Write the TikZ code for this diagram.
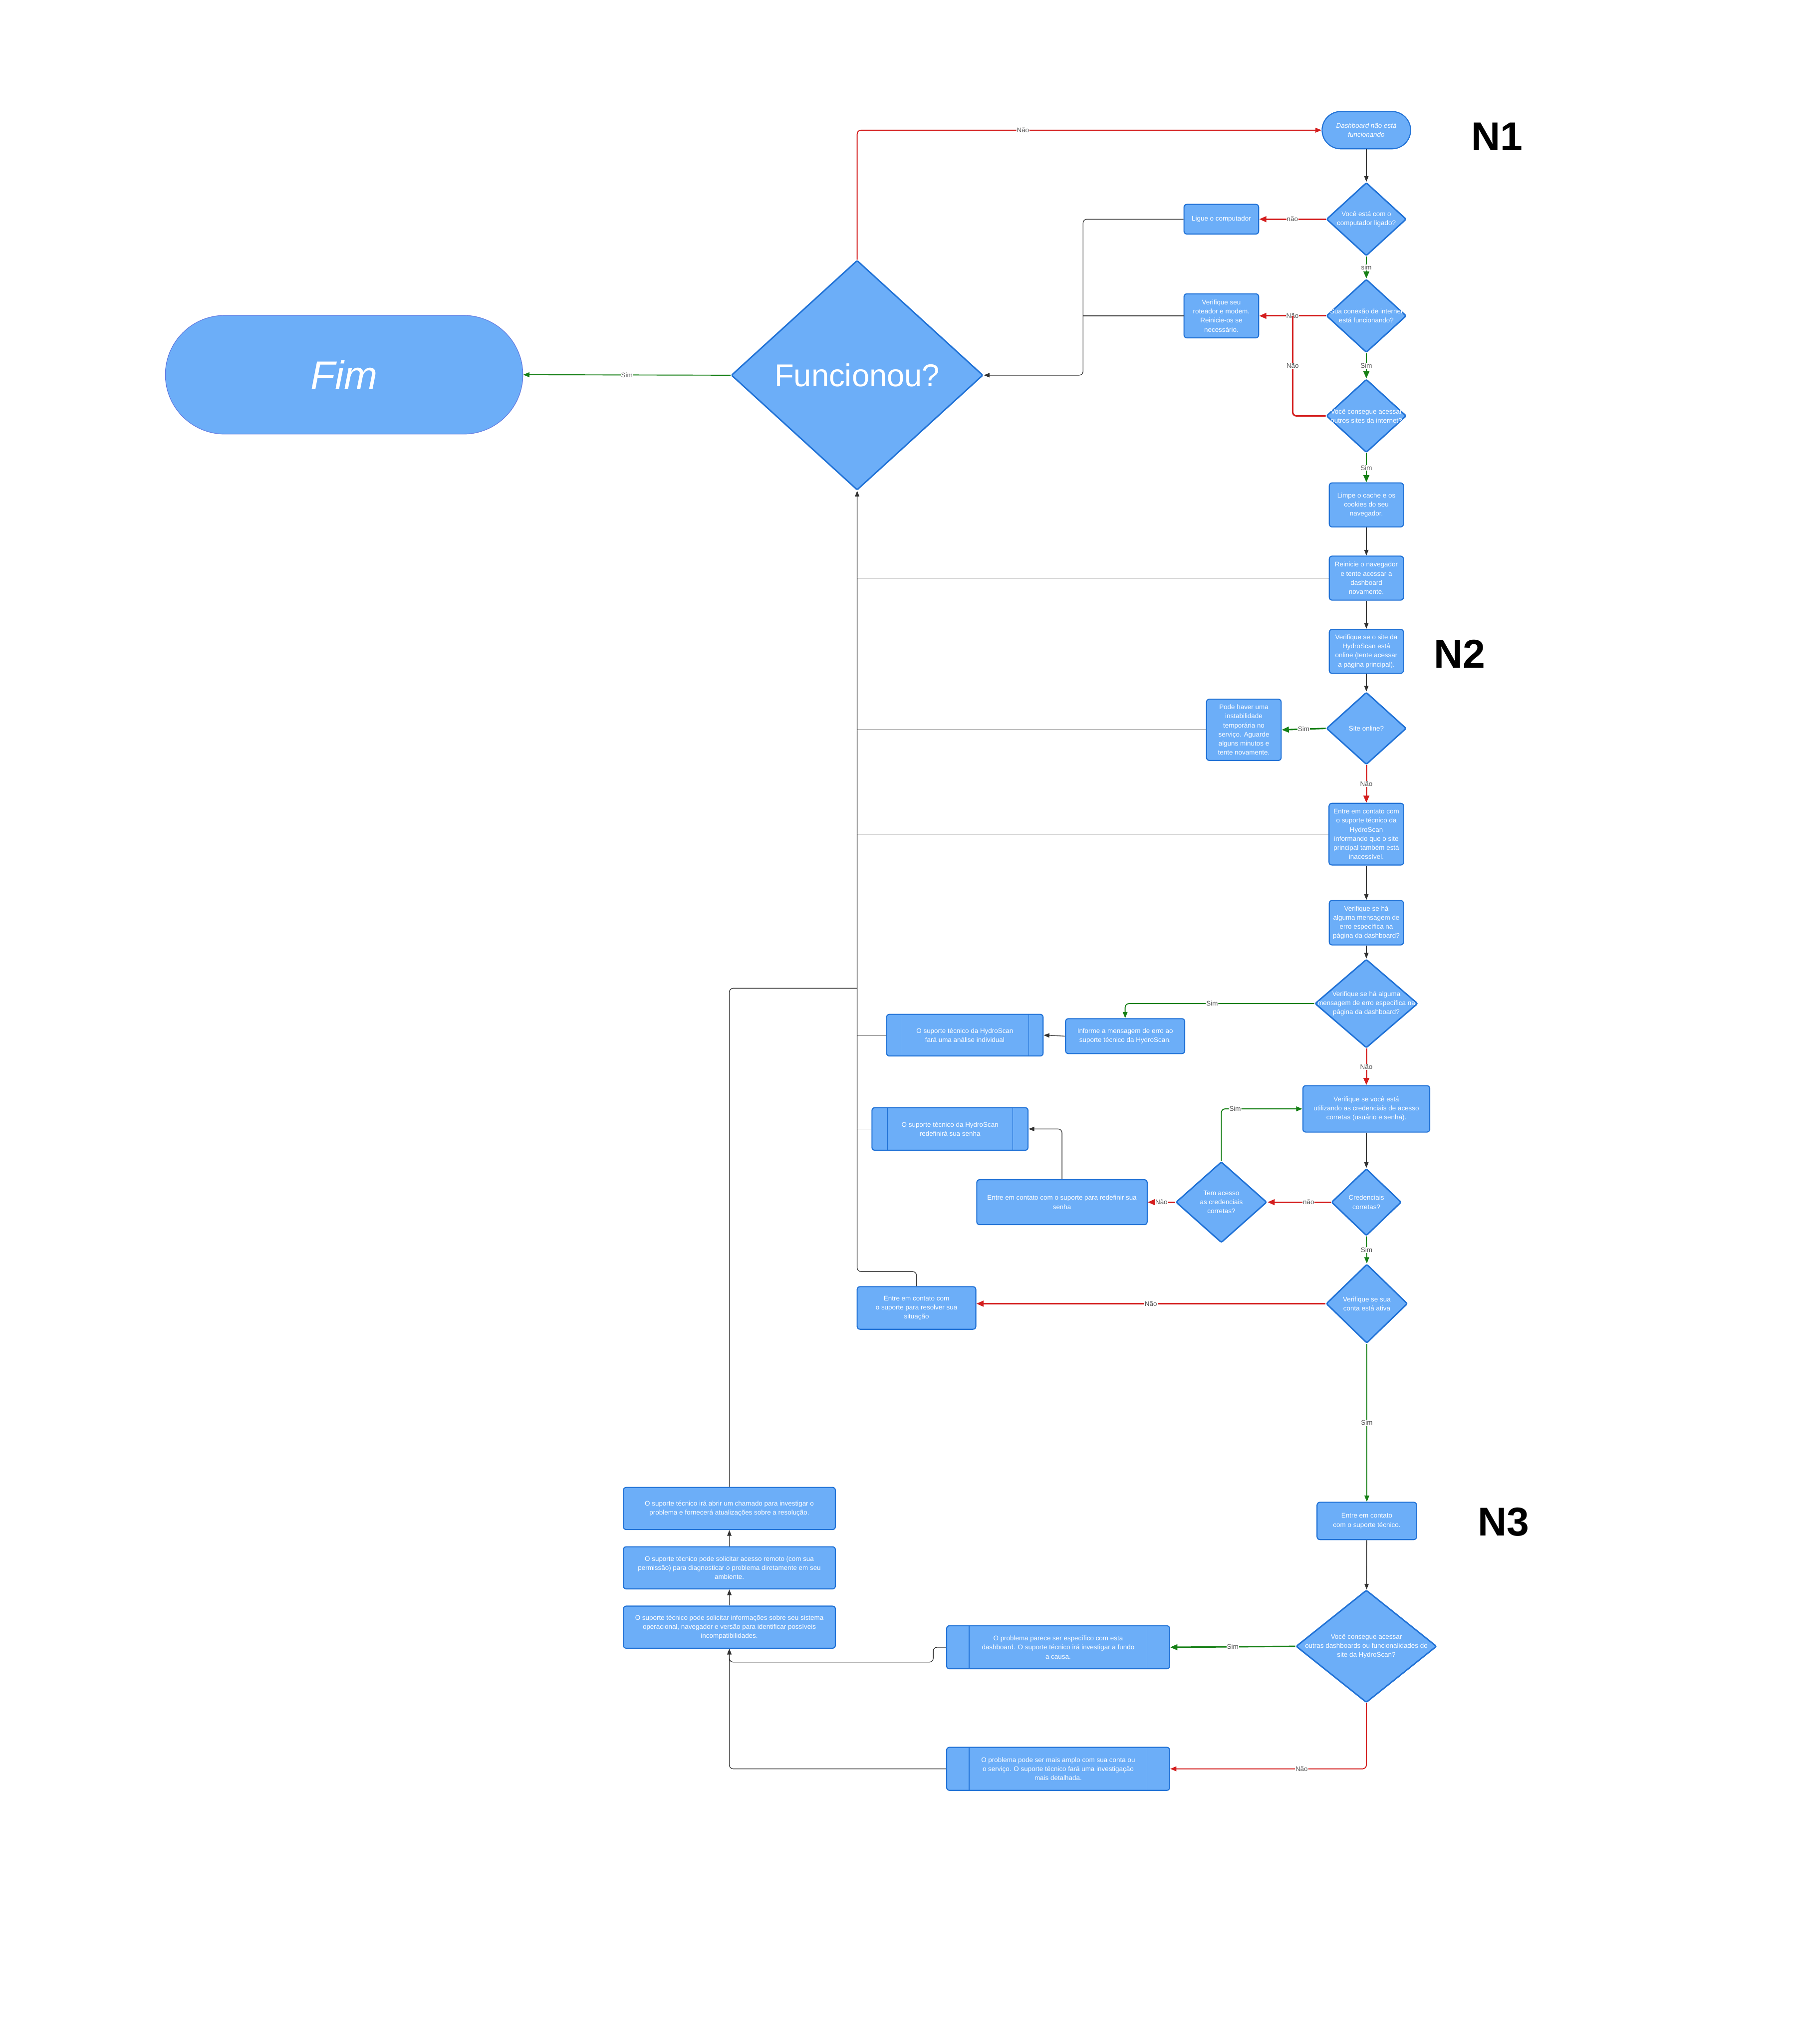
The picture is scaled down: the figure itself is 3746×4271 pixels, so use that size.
\documentclass[tikz,border=0pt]{standalone}
\usepackage{fontspec}
\setmainfont{Liberation Sans}
\usetikzlibrary{shapes.geometric,arrows.meta}
\definecolor{bfill}{RGB}{108,174,248}
\definecolor{bdraw}{RGB}{33,114,214}
\definecolor{fimdraw}{RGB}{96,120,224}
\definecolor{cred}{RGB}{212,30,30}
\definecolor{cgreen}{RGB}{22,128,22}
\definecolor{cgray}{RGB}{50,50,50}
\definecolor{clbl}{RGB}{85,85,85}
\newcommand{\fs}{\fontsize{14}{19}\selectfont}
\begin{document}
\begin{tikzpicture}[x=1pt,y=-1pt,
 sz/.style 2 args={minimum width=#1pt, minimum height=#2pt},
 box/.style={rectangle, rounded corners=6pt, fill=bfill, draw=bdraw, line width=2.2pt, text=white, align=center, font=\fs, inner sep=0pt},
 subbox/.style={box, path picture={\draw[bdraw, line width=1.4pt] ([xshift=#1pt]path picture bounding box.north west) -- ([xshift=#1pt]path picture bounding box.south west) ([xshift=-#1pt]path picture bounding box.north east) -- ([xshift=-#1pt]path picture bounding box.south east);}},
 dia/.style={diamond, fill=bfill, draw=bdraw, line width=3pt, inner sep=0pt, rounded corners=3pt},
 dtext/.style={text=white, align=center, font=\fs, inner sep=0pt},
 lbl/.style={fill=white, text=clbl, font=\fs, inner sep=1pt},
 big/.style={text=black, font=\fontsize{84}{84}\selectfont\bfseries},
 blk/.style={draw=cgray, line width=1.4pt, -{Triangle[length=12pt,width=9pt]}},
 blkl/.style={draw=cgray, line width=1.4pt},
 redA/.style={draw=cred, line width=3.2pt, -{Triangle[length=15pt,width=12pt]}},
 redl/.style={draw=cred, line width=3.2pt},
 redB/.style={draw=cred, line width=2pt, -{Triangle[length=13pt,width=10pt]}},
 grA/.style={draw=cgreen, line width=3pt, -{Triangle[length=15pt,width=12pt]}},
 grB/.style={draw=cgreen, line width=2pt, -{Triangle[length=13pt,width=10pt]}},
 rc/.style={rounded corners=8pt},
]
\useasboundingbox (0,0) rectangle (3746,4271);
\fill[white] (0,0) rectangle (3746,4271);

% ---- nodes ----
\node[box, rounded corners=39pt, sz={185}{78}, font={\fs\itshape}] (start) at (2855,272) {Dashboard não está\\funcionando};
\node[big] (n1) at (3128,285) {N1};
\node[big] (n2) at (3050,1366) {N2};
\node[big] (n3) at (3142,3180) {N3};

\node[dia, sz={167}{153}, label={[dtext]center:{Você está com o\\computador ligado?}}] (d1) at (2855,458) {};
\node[box, sz={156}{62}] (ligue) at (2552,458) {Ligue o computador};
\node[dia, sz={167}{153}, label={[dtext]center:{Sua conexão de internet\\está funcionando?}}] (d2) at (2855,660) {};
\node[box, sz={156}{92}] (rot) at (2552,660) {Verifique seu\\roteador e modem.\\Reinicie-os se\\necessário.};
\node[dia, sz={167}{153}, label={[dtext]center:{Você consegue acessar\\outros sites da internet?}}] (d3) at (2855,869) {};
\node[box, sz={155}{92}] (limpe) at (2855,1055) {Limpe o cache e os\\cookies do seu\\navegador.};
\node[box, sz={155}{92}] (reinicie) at (2855,1208) {Reinicie o navegador\\e tente acessar a\\dashboard\\novamente.};
\node[box, sz={155}{92}] (vsite) at (2855,1361) {Verifique se o site da\\HydroScan está\\online (tente acessar\\a página principal).};
\node[dia, sz={167}{151}, label={[dtext]center:{Site online?}}] (d4) at (2855,1522) {};
\node[box, sz={156}{128}] (pode) at (2599,1525) {Pode haver uma\\instabilidade\\temporária no\\serviço. Aguarde\\alguns minutos e\\tente novamente.};
\node[box, sz={156}{129}] (entre1) at (2855,1743) {Entre em contato com\\o suporte técnico da\\HydroScan\\informando que o site\\principal também está\\inacessível.};
\node[box, sz={155}{93}] (vmsg) at (2855,1928) {Verifique se há\\alguma mensagem de\\erro específica na\\página da dashboard?};
\node[dia, sz={215}{185}, label={[dtext]center:{Verifique se há alguma\\mensagem de erro específica na\\página da dashboard?}}] (d5) at (2855,2097) {};
\node[box, sz={249}{73}] (informe) at (2351,2165) {Informe a mensagem de erro ao\\suporte técnico da HydroScan.};
\node[subbox=30, sz={327}{87}] (analise) at (2016,2163) {O suporte técnico da HydroScan\\fará uma análise individual};
\node[box, sz={265}{97}] (vcred) at (2855,2317) {Verifique se você está\\utilizando as credenciais de acesso\\corretas (usuário e senha).};
\node[dia, sz={146}{140}, label={[dtext]center:{Credenciais\\corretas?}}] (d6) at (2855,2512) {};
\node[dia, sz={190}{169}, label={[dtext]center:{Tem acesso\\as credenciais\\corretas?}}] (d7) at (2552,2512) {};
\node[box, sz={356}{94}] (entre2) at (2219,2512) {Entre em contato com o suporte para redefinir sua\\senha};
\node[subbox=32, sz={326}{89}] (redef) at (1985,2359) {O suporte técnico da HydroScan\\redefinirá sua senha};
\node[dia, sz={170}{165}, label={[dtext]center:{Verifique se sua\\conta está ativa}}] (d8) at (2856,2724) {};
\node[box, sz={248}{89}] (entre3) at (1915,2733) {Entre em contato com\\o suporte para resolver sua\\situação};
\node[box, sz={208}{78}] (entre4) at (2856,3178) {Entre em contato\\com o suporte técnico.};
\node[dia, sz={294}{235}, label={[dtext]center:{Você consegue acessar\\outras dashboards ou funcionalidades do\\site da HydroScan?}}] (d9) at (2855,3440) {};
\node[subbox=47, sz={466}{90}] (esp) at (2211,3442) {O problema parece ser específico com esta\\dashboard. O suporte técnico irá investigar a fundo\\a causa.};
\node[subbox=47, sz={466}{90}] (amplo) at (2211,3696) {O problema pode ser mais amplo com sua conta ou\\o serviço. O suporte técnico fará uma investigação\\mais detalhada.};
\node[box, sz={443}{88}] (chamado) at (1524,3152) {O suporte técnico irá abrir um chamado para investigar o\\problema e fornecerá atualizações sobre a resolução.};
\node[box, sz={443}{88}] (remoto) at (1524,3276) {O suporte técnico pode solicitar acesso remoto (com sua\\permissão) para diagnosticar o problema diretamente em seu\\ambiente.};
\node[box, sz={443}{88}] (info) at (1524,3400) {O suporte técnico pode solicitar informações sobre seu sistema\\operacional, navegador e versão para identificar possíveis\\incompatibilidades.};

\node[dia, line width=3pt, rounded corners=2pt, sz={526}{480}, label={[dtext, font=\fontsize{66}{66}\selectfont]center:{Funcionou?}}] (funcionou) at (1791,784) {};
\node[rectangle, rounded corners=124pt, fill=bfill, draw=fimdraw, line width=1.2pt, sz={747}{248}, text=white, font=\fontsize{84}{84}\selectfont\itshape] (fim) at (719,783) {Fim};

% ---- connectors ----
\draw[blk] (start) -- (d1);
\draw[redA] (d1.west) -- node[lbl]{não} (ligue.east);
\draw[grA] (d1.south) -- node[lbl]{sim} (d2.north);
\draw[redA] (d2.west) -- node[lbl]{Não} (rot.east);
\coordinate (j1) at (2701,660);
\draw[redl, rc] (d3.west) -- (d3.west -| j1) -- node[lbl]{Não} (j1);
\draw[grA] (d2.south) -- node[lbl]{Sim} (d3.north);
\draw[grA] (d3.south) -- node[lbl]{Sim} (limpe.north);
\draw[blk] (limpe) -- (reinicie);
\draw[blk] (reinicie) -- (vsite);
\draw[blk] (vsite) -- (d4);
\draw[grA] (d4.west) -- node[lbl]{Sim} (pode.east);
\draw[redA] (d4.south) -- node[lbl]{Não} (entre1.north);
\draw[blk] (entre1) -- (vmsg);
\draw[blk] (vmsg) -- (d5);
\draw[grB, rc] (d5.west) -- node[lbl, pos=0.54]{Sim} (d5.west -| informe.north) -- (informe.north);
\draw[blk] (informe.west) -- (analise.east);
\draw[redA] (d5.south) -- node[lbl]{Não} (vcred.north);
\draw[blk] (vcred) -- (d6);
\draw[redA] (d6.west) -- node[lbl, pos=0.35]{não} (d7.east);
\draw[grB, rc] (d7.north) -- (d7.north |- vcred.west) -- node[lbl, pos=0.17]{Sim} (vcred.west);
\draw[redA] (d7.west) -- node[lbl]{Não} (entre2.east);
\draw[blk, rc] (entre2.north) -- (entre2.north |- redef.east) -- (redef.east);
\draw[grB] (d6.south) -- node[lbl]{Sim} (d8.north);
\draw[redA] (d8.west) -- node[lbl]{Não} (d8.west -| entre3.east);
\draw[grB] (d8.south) -- node[lbl]{Sim} (entre4.north);
\draw[blk] (entre4) -- (d9);
\draw[grA] (d9.west) -- node[lbl]{Sim} (esp.east);
\draw[redB, rc] (d9.south) -- (d9.south |- amplo.east) -- node[lbl, pos=0.33]{Não} (amplo.east);
\coordinate (jb) at (1950,3473);
\draw[blk, rc] (esp.west) -- (esp.west -| jb) -- (jb) -- (jb -| info.south) -- (info.south);
\draw[blk, rc] (amplo.west) -- (amplo.west -| info.south) -- (info.south);
\draw[blk] (info) -- (remoto);
\draw[blk] (remoto) -- (chamado);

% spine into Funcionou
\coordinate (spb) at (1791,2657);
\coordinate (spc) at (1791,2065);
\draw[blk, rc] (entre3.north) -- (entre3.north |- spb) -- (spb) -- (funcionou.south);
\draw[blkl, rc] (chamado.north) -- (chamado.north |- spc) -- (spc);
\draw[blkl] (reinicie.west) -- (reinicie.west -| funcionou.south);
\draw[blkl] (pode.west) -- (pode.west -| funcionou.south);
\draw[blkl] (entre1.west) -- (entre1.west -| funcionou.south);
\draw[blkl] (analise.west) -- (analise.west -| funcionou.south);
\draw[blkl] (redef.west) -- (redef.west -| funcionou.south);

\coordinate (jr) at (2263,458);
\draw[blk, rc] (ligue.west) -- (jr) -- (jr |- funcionou.east) -- (funcionou.east);
\draw[blkl, rc] (rot.west) -- (rot.west -| jr);

\draw[redB, rc] (funcionou.north) -- (funcionou.north |- start.west) -- node[lbl, pos=0.357]{Não} (start.west);
\draw[grB] (funcionou.west) -- node[lbl]{Sim} (fim.east);
\end{tikzpicture}
\end{document}
